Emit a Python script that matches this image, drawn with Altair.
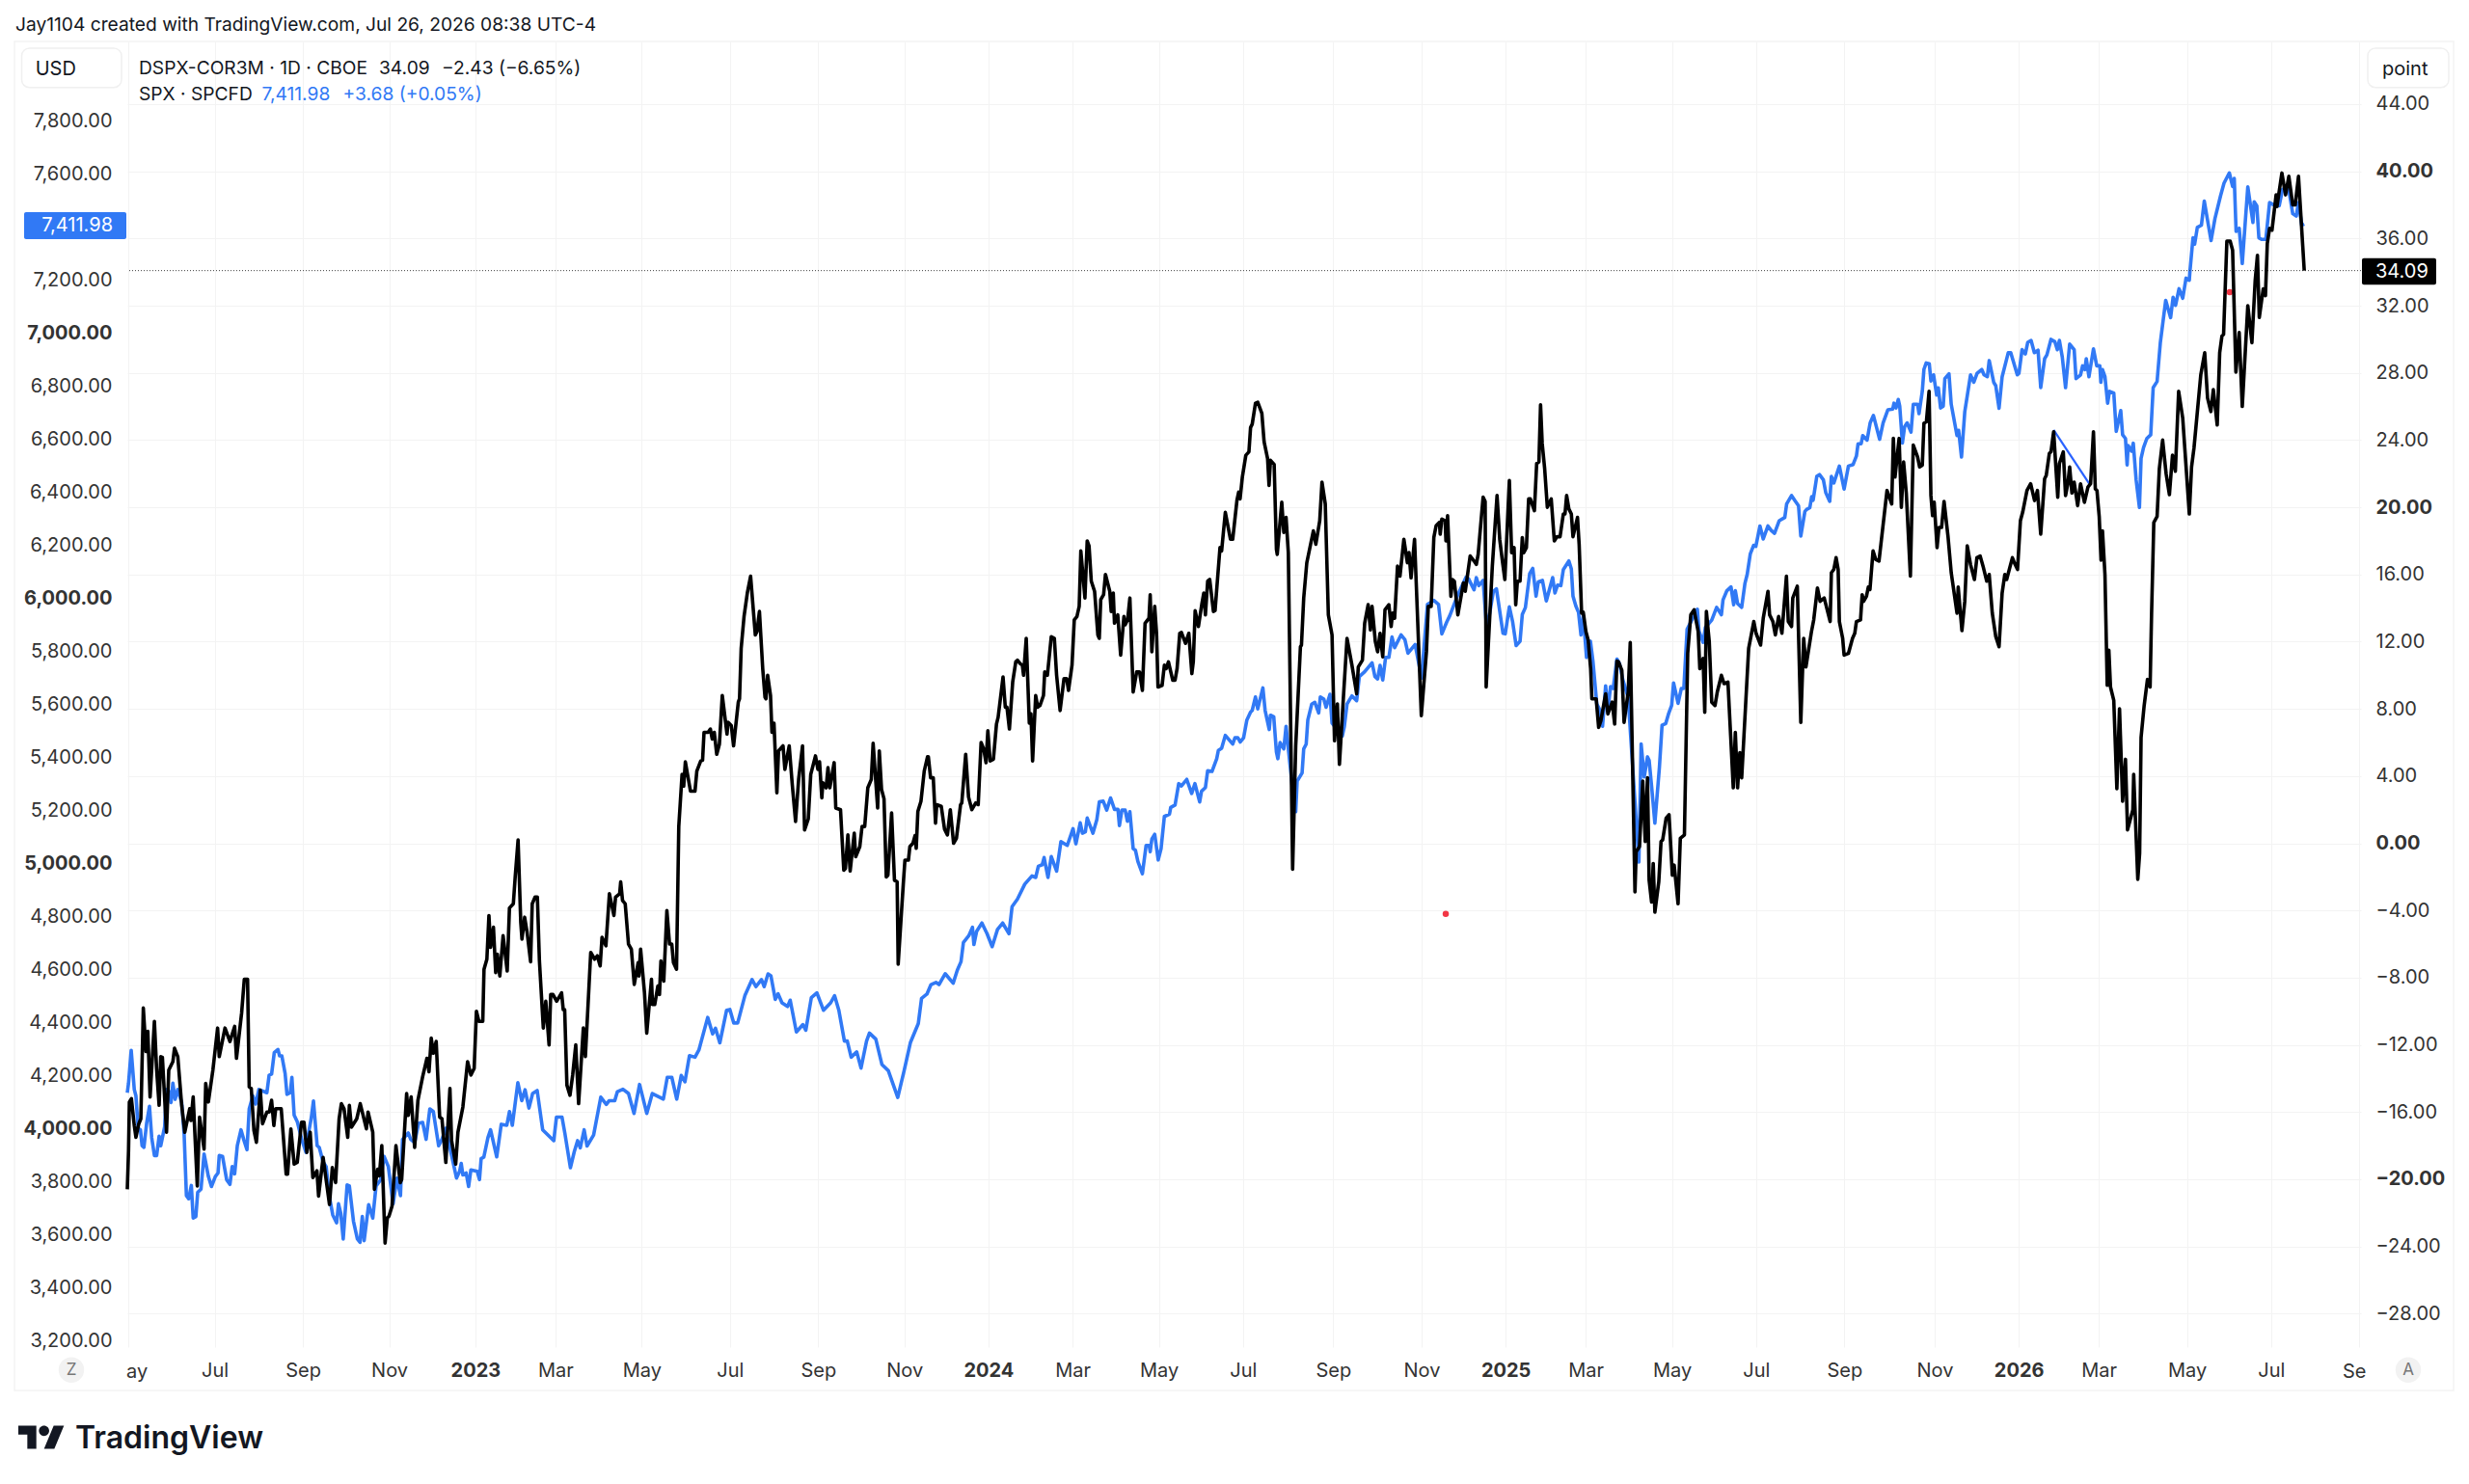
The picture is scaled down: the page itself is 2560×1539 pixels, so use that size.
import altair as alt
import pandas as pd
from itertools import accumulate

# --- axis data -------------------------------------------------------------
month_labels = ["May","Jul","Sep","Nov","2023","Mar","May","Jul","Sep","Nov","2024","Mar","May","Jul","Sep","Nov",
                "2025","Mar","May","Jul","Sep","Nov","2026","Mar","May","Jul","Sep"]
sessions_between_labels = [42,43,42,42,39,42,43,43,42,41,41,42,41,44,43,41,39,42,41,43,44,41,39,43,41,43]
first_label_session = 0.6
left_ticks = [3200,3400,3600,3800,4000,4200,4400,4600,4800,5000,5200,5400,5600,5800,6000,6200,6400,6600,6800,7000,7200,7600,7800]
right_ticks = [-28,-24,-20,-16,-12,-8,-4,0,4,8,12,16,20,24,28,32,36,40,44]

# --- series: (trading session, value) ---------------------------------------
dspx_cor3m = [
(0,-20.6),(.6,-18.3),(1,-15.4),(2,-15.2),(3.4,-16.8),(4.2,-17.5),(5.6,-16.7),(6.6,-16.4),(7.8,-9.8),(9.1,-12.4),(10,-11.2),(11.1,-15.1),
(13.2,-10.6),(14.3,-13.5),(15.5,-15.6),(16.3,-12.7),(17.1,-12.75),(19.1,-17.2),(20.2,-13.5),(22.2,-13),(23,-12.2),(24.6,-12.7),(26.5,-15.6),
(28,-17.2),(30.4,-15.8),(31,-16.5),(32.1,-15.1),(34.1,-20.4),(35.2,-16.3),(37.4,-18.2),(38.2,-14.3),(39.5,-15.4),(41.7,-13.5),(44,-11),
(44.8,-12.7),(47.6,-11),(50,-11.8),(52.3,-10.9),(53.2,-12.8),(55.7,-10.1),(57,-8.1),(58.6,-8.1),(59.4,-14.5),(60.4,-14.6),(61.7,-17.1),
(62.9,-17.8),(64.8,-14.7),(65.9,-16.7),(68,-16),(69.2,-16),(70.3,-15.3),(71.4,-16.8),(72.3,-15.8),(75,-15.8),(77.4,-19.7),(78.1,-19.7),
(79.7,-17),(81.3,-19.1),(82.8,-19),(84.9,-16.6),(86.1,-16.6),(87.5,-18.4),(89.1,-17.2),(90.4,-19.9),(92.4,-19.5),(93.2,-21),(95.4,-18.7),
(98.5,-21.5),(99.9,-19.3),(101.5,-20.2),(103.2,-16.4),(104.3,-15.5),(105.6,-15.8),(107.4,-17.5),(108.2,-15.6),(109.2,-16.9),(111.8,-16.4),
(113.5,-15.5),(116.5,-17),(117.3,-16),(119.6,-17.2),(120.4,-20.6),(122,-19.4),(122.8,-19.8),(124,-18),(125.6,-23.8),(126.7,-22.3),(127.5,-22.2),
(129,-21.6),(130.9,-18),(133,-20.2),(133.7,-20),(136.1,-14.9),(136.9,-16.2),(138.3,-15.1),(140,-18.1),(141.6,-15.3),(143.9,-13.9),(146,-12.8),
(147,-13.6),(148.1,-11.6),(149.1,-12.5),(150.5,-11.8),(152.2,-16.3),(153.3,-16.4),(155.2,-19),(157.2,-14.6),(158,-17.7),(160,-19.1),(161.1,-17.2),
(163.5,-15.7),(165.8,-13),(167.4,-13.8),(169,-13.4),(170.1,-10),(171.3,-10.6),(173.2,-10.6),(173.8,-7.5),(175.2,-6.9),(176.2,-4.3),(177,-6.2),
(178.4,-5),(179.5,-7.7),(180.3,-6.6),(181.5,-7.9),(183.1,-5.5),(185.1,-7.6),(186.2,-3.85),(188.1,-3.6),(189,-2),(190.4,.2),(191.7,-4.7),
(192.3,-5.7),(193.6,-4.4),(194.8,-5.3),(196.5,-7.05),(197.3,-3.6),(198.7,-3.2),(199.8,-3.2),(200.8,-7),(202.7,-11),(203.9,-9.4),(205.5,-12),
(206.3,-9),(207.4,-9),(209.2,-9.4),(211.6,-8.9),(212.4,-9.9),(213.1,-9.9),(214.2,-14.4),(215.7,-15),(217,-13.8),(218.5,-12),(219.9,-15.5),
(222.2,-11),(223.2,-12.7),(225.8,-6.5),(227.7,-6.9),(229,-6.7),(230.4,-7.3),(231.3,-5.6),(233.2,-6.1),(234.9,-3),(237.1,-4.3),(237.9,-3.2),
(239.9,-3),(240.4,-2.3),(241.3,-3.4),(242.6,-3.6),(244.2,-6),(245.6,-6.3),(247,-8.4),(248.9,-7.1),(249.3,-7.9),(250.1,-6.3),(252,-8.9),
(253.1,-11.3),(255.4,-8.1),(255.9,-9.6),(257,-9.6),(258.5,-8.5),(259.3,-9),(260,-7),(261.4,-8.2),(262.9,-4),(264.2,-6),(265.3,-6),(266.1,-7.1),
(267.6,-7.5),(268.7,1),(270.3,4.1),(271.1,3.4),(271.9,4.85),(274.4,3.1),(276.6,3.1),(277.5,4.3),(279.4,4.9),(280.3,4.95),(281,6.6),(283,6.6),
(284.1,6.8),(285,6.2),(286,6.6),(287.2,5.3),(288.5,5.9),(289.9,8.8),(292.2,6.5),(292.7,7.2),(294.3,7),(295.4,5.8),(297.7,8.4),(298.3,8.6),
(299.1,11.6),(300.5,13.5),(302.1,14.9),(303.7,15.9),(306,12.4),(306.8,12.6),(308,13.8),(309.6,10.4),(310.7,8.7),(311.2,8.6),(312,10),(313.4,8.8),
(314.1,6.6),(315.1,7.15),(316.5,3),(317.3,5.5),(319.5,5.8),(320.4,4.4),(322.5,5.8),(324,3.5),(325.6,1.3),(327.1,3.8),(329,5.8),(330,.8),
(331.8,1.45),(333,4.1),(335.3,5.2),(336.5,4.4),(337.3,4.85),(338.4,2.7),(338.9,3.6),(340.5,3.3),(341.4,4.5),(342.3,3.3),(344.4,4.8),(345.2,2.1),
(347.5,2),(349.1,-1.6),(349.9,-1.5),(351.1,.5),(352.2,-1.65),(354.2,.6),(354.9,-.8),(356.9,-.2),(358,1),(359.3,1),(360.8,3.3),(362.5,3.8),
(363.4,5.95),(365.6,2.1),(366.4,5.5),(367.5,3.2),(368.7,2.65),(369.8,-2),(370.6,-1.9),(372.4,1.8),(373.8,-2.2),(375.1,-2.3),(375.6,-7.2),
(378.1,-2.4),(378.9,-1),(380.6,-1),(381.3,-.2),(382.8,0),(383.8,.45),(384.4,-.3),(385.2,1.9),(386.7,2.5),(388.3,4.3),(389.9,5.15),(390.3,5.15),
(391.4,3.9),(392.7,3.9),(393.8,1.2),(394.4,2.3),(396.6,2.2),(398.2,.84),(399.6,.5),(401,2),(402.6,0),(404,.3),(406,2.3),(406.6,2.4),(408.5,5.3),
(409.9,2.75),(411.5,2),(413.4,2.4),(414.6,2.3),(416,6),(417.3,5.6),(418.4,4.8),(419.3,6.7),(420.4,4.9),(422,5),(423.5,7.1),(424.3,7.5),(426.7,9.9),
(427.8,8.1),(428.6,8.1),(429.8,6.8),(431.4,9.6),(432.9,10.8),(433.7,10.9),(435,10.7),(436.1,10.6),(436.7,10),(438,12.2),(439.5,7.15),(440.3,7.7),
(441.1,4.9),(442.6,8.8),(443.6,8.1),(444.7,8.2),(446.4,8.8),(447,10.2),(448.3,10),(450.2,12.3),(451.7,12.2),(452.8,10),(454.5,7.9),(456.4,9.8),
(457.7,9.8),(458.6,9.1),(460.3,10.6),(461.4,13.3),(462.7,13.5),(463.8,14.1),(464.6,17.4),(466.6,14.6),(467.7,18),(468.6,17.7),(469.7,15.6),
(471.3,15),(472.9,12.4),(473.6,12.2),(474.3,14.5),(475.7,14.8),(476.6,16),(478.7,15),(479.4,13.8),(480.4,14.9),(481,13.1),(482.6,13.6),(484,11.2),
(485.6,13.5),(486.2,13),(487.4,13.3),(488.5,14.6),(490.1,9),(491.8,10.2),(493.2,10.2),(494.6,9.1),(495.9,13.1),(497.8,13.4),(498.4,14.8),(499.2,11.4),
(500.6,14.1),(501.5,12.5),(502.2,9.3),(504.2,9.4),(505.3,10.6),(506.2,10.4),(507.3,10.8),(509.4,9.7),(510.5,9.7),(511.5,10.4),(512.8,12.5),(513.6,12.55),
(515.6,11.9),(517.2,12.5),(518.7,10.1),(519.4,10.8),(520.3,13.85),(521.9,12.9),(523.5,14.2),(524.5,14.9),(525.3,13.6),(526.4,15.6),(527.4,15.7),
(529.2,13.8),(530,13.85),(532.4,17.6),(533.2,17.4),(535,19.7),(537.5,18.1),(538.6,18.1),(540.7,20.45),(541.5,20.9),(542.2,20.5),(543.3,21.8),
(545,23.1),(546.5,23.3),(547.3,24.75),(548.1,24.95),(549.7,26.2),(550.8,26.25),(552.8,25.6),(553.9,23.9),(555.6,22.9),(556.3,21.3),(557,22.8),
(558.8,22.55),(559.9,17.5),(560.3,17.2),(562.5,20.3),(563.5,18.5),(564.6,19.4),(565.7,17.3),(567.8,-1.55),(569.3,5.8),(571.6,11.7),(572.1,11.8),
(573.2,14.6),(574.7,16.7),(577.9,18.6),(579.1,17.8),(581,19.2),(582.1,21.5),(583.7,20.2),(585.2,13.6),(587,12.4),(588.2,6.1),(589.6,8.3),(590.6,4.7),
(592.4,8.4),(594.3,12.2),(596.7,10.6),(599,8.9),(599.8,10.5),(601.8,10.9),(602.9,13.1),(604.6,14.2),(605.7,12.7),(606.5,14.1),(608.1,12),(609.2,11.4),
(610.4,12.5),(611.7,11.1),(612.8,13.9),(614.7,14.2),(615.8,12.9),(616.5,13.7),(617.5,13.4),(618.9,16.5),(620.1,15.9),(622,18.1),(623.7,16.7),
(624.5,17.3),(625.5,15.8),(627.2,18.1),(630.5,7.6),(633,11.4),(633.9,14.1),(635.3,14.1),(636.6,18.2),(637.7,18.9),(639.3,19.1),(639.7,18.4),
(640.5,19.3),(642.1,19.2),(642.5,18),(643.3,19.5),(644.9,14.7),(645.7,15.7),(646.6,15.6),(648.3,13.6),(651,15.5),(651.9,15),(654.3,17.1),(656.2,16.8),
(657.3,16.6),(658.2,17.2),(660.6,20.6),(661.6,20.35),(662.1,9.3),(665.1,16.5),(667.4,20.7),(668.7,18.1),(670,16.8),(671.2,15.7),(673.4,21.6),
(674.5,17.3),(675.7,17.6),(676.5,14.2),(677.3,15.6),(678.6,15.6),(679.7,18.2),(680.4,17.3),(681.7,17.6),(682.8,20.5),(683.6,20.5),(685.6,19.8),
(686.7,22.6),(687.8,22.7),(688.6,26.1),(689.4,23.8),(690.6,22.3),(691.9,20),(693.8,20.5),(695.3,18),(696.6,18.25),(698.1,18.25),(699.7,19.6),
(700.5,19.6),(701.3,20.7),(702.4,19.9),(703.6,19.6),(704.4,18.25),(706.6,19.4),(707.4,17.8),(708.6,13.7),(709.4,13.75),(710.7,12.6),(711.8,12.1),
(713,10.4),(713.6,8.6),(715.7,8.6),(716.9,6.9),(718,7.3),(720.3,8.9),(721.4,7.7),(723.5,8.4),(724.7,7.1),(725.8,10.85),(726.6,10.8),(728.2,10.3),
(729.3,7.2),(731.3,9),(732.3,11.95),(734.6,-2.9),(735.2,-.5),(736.8,-.2),(738.4,3.7),(739.6,.1),(740.7,3.9),(741.5,-2.2),(742.7,-3.5),(743.5,-1.2),
(744.3,-4.1),(746.2,-2.3),(747.3,.1),(748.1,.2),(749.8,1.5),(751.2,1.7),(752.8,-1.9),(753.7,-1.3),(755.6,-3.6),(756.7,.3),(758.7,.5),(760.3,11.3),
(761.8,13.6),(763.4,13.9),(765.4,12.6),(766.2,10.4),(767.8,11),(768.6,7.8),(769.4,13.8),(770.8,12),(772,8.4),(773.6,8.2),(774.7,9),(776.7,10),
(778,9.5),(779.9,9.6),(782.5,3.3),(783.5,6.6),(784.6,3.3),(785.7,5.4),(786.6,3.9),(788.5,8.2),(790,11.6),(792.5,13.2),(793.6,12.5),(795.8,11.8),
(797.1,13.4),(799.4,15),(800.2,13.6),(801.8,13.2),(803,12.4),(804.6,13.5),(806.2,12.5),(808.4,15.9),(809.3,13.2),(810.9,12.9),(811.5,14.6),
(813.7,15.3),(815.4,7.2),(816.8,12.2),(817.9,10.5),(820.6,12.6),(821.7,13.3),(823.5,15.2),(824.8,14.4),(826.8,14.6),(829.7,13.2),(830.3,16.1),
(831.5,16.3),(832.6,17),(833.6,16.3),(834.2,13.2),(835.8,12.2),(836.5,11.2),(838.6,11.3),(840.6,12.2),(841.7,12.5),(842.5,13.2),(844.5,13.3),
(845.3,14.8),(846,14.4),(847.4,14.7),(848.3,15.25),(849.1,15.1),(850.6,17.4),(851.9,16.9),(853.5,16.8),(857.4,21),(859.7,20.2),(860.5,24.1),
(861.3,21.8),(863.3,24.1),(864.4,20),(865.5,22.7),(866.8,20.85),(868.8,15.9),(870.2,23.7),(872.3,23),(873.3,22.4),(874.6,22.5),(875.4,25),
(876.6,25.1),(877.9,26.9),(878.8,20.7),(879.6,19.5),(880.4,20.3),(881.8,17.6),(882.7,18.8),(884,18.8),(885.2,20.35),(887.1,18.3),(888.7,16.1),
(891.5,13.7),(892.1,15.25),(893.9,12.66),(895.3,14.4),(896.5,17.7),(898.1,16.6),(900,15.7),(901.2,17),(902.8,17.1),(904.4,16.4),(906,15.6),
(907.2,16),(908.7,13.7),(910.4,12.3),(912,11.7),(913.5,14.9),(914.8,16),(915.7,15.7),(918.5,17),(919.8,16.6),(921,16.3),(922.4,19.2),(923.5,19.7),
(925.6,21),(927.4,21.4),(929.3,20.4),(930.7,21),(932.3,18.4),(934.2,21.7),(935,21.9),(936.5,23.2),(937.3,23.3),(938.6,24.5),(940.6,20.6),(941.4,22.6),
(943.3,23.3),(944.4,20.7),(945.5,21.4),(946.4,22.4),(947.5,20.85),(948.6,21.5),(950.3,20.1),(951.7,21.4),(953.6,20.3),(955.3,21.2),(956.6,21.4),
(958,24.5),(958.9,21.1),(959.7,21),(960.8,19.45),(961.7,16.85),(962.4,18.6),(963.6,16),(964.7,9.4),(965.5,11.5),(966.3,9.3),(967.9,8.5),(969.4,3.25),
(970.7,8),(972.2,2.5),(973.6,5),(974.6,.8),(977.2,2),(977.6,4.1),(979.6,-2.15),(980.5,-.6),(981.2,6.3),(982.7,8.2),(984.3,9.75),(985.6,9.3),(986.3,13.6),
(987.4,19.1),(989,19.45),(990.1,22.3),(991.7,24),(993.4,22),(995,20.75),(996.5,23.1),(997.9,22.15),(999.5,26.9),(1001.5,25.3),(1004.7,19.6),(1005.8,22.4),
(1007,23.55),(1010.3,27.9),(1012.2,29.2),(1013.6,26.5),(1015.2,25.7),(1016.4,27),(1018.3,24.9),(1019.5,29.2),(1020.6,30.2),(1021.4,30.3),(1023,35.85),
(1024.6,35.85),(1025.8,35.3),(1027.4,28.05),(1029,30.4),(1030.5,26),(1033.2,32),(1035.2,29.8),(1036.8,33.5),(1037.9,35),(1038.8,31.3),(1040.7,33),
(1041.8,32.6),(1042.7,35.7),(1043.8,36.6),(1045,36.5),(1047,38.6),(1047.4,37.9),(1049.8,39.9),(1051.6,38.6),(1053.2,39.7),(1055.1,38),(1056.3,38),
(1057.9,39.7),(1060.7,34.09),
]

spx = [
(0,4135),(.6,4171),(1.9,4295),(3.4,4147),(4.2,4123),(5.3,4001),(6.4,3995),(7.2,3935),(8.1,3929),(9.4,4019),(10.8,4084),(11.9,3965),(13.2,3898),(14.3,3898),
(15.5,3971),(16.3,3935),(18.2,4007),(19,4147),(20.2,4141),(21.3,4098),(22.2,4171),(23.3,4110),(24.6,4147),(26.5,4098),(27.7,3977),(28.8,3747),(29.9,3735),
(31.2,3785),(32.1,3662),(33.4,3668),(34.3,3759),(35.9,3771),(37.4,3904),(39.5,3819),(41,3781),(42.9,3819),(44.2,3832),(44.8,3898),(46.4,3895),(48.4,3807),
(50,3789),(51.1,3856),(52.3,3829),(53.6,3935),(55.4,3995),(56.7,3959),(58.3,3920),(59.4,4074),(61.2,4123),(62.5,4092),(64.1,4147),(68,4135),(69.1,4201),
(70.3,4205),(71.6,4286),(73.4,4298),(74.2,4274),(75.3,4274),(76.9,4207),(77.8,4129),(79.4,4135),(80.2,4193),(81.3,4050),(82.8,4026),(85.2,3953),(87.1,3910),
(88.3,3983),(89.6,4038),(90.7,4104),(92.5,3935),(93.5,3929),(95.4,3874),(96.9,3856),(98.5,3741),(100.1,3674),(102,3644),(102.9,3716),(104,3680),(105.2,3583),
(107.1,3787),(108.2,3783),(110.2,3650),(112.1,3583),(113.4,3571),(114.5,3668),(115.4,3577),(117.6,3713),(119.6,3662),(121.2,3783),(123.5,3807),(125.1,3895),
(127.2,3856),(129.5,3716),(131.4,3813),(133.1,3747),(134.1,3959),(136.9,3983),(138.1,3959),(140,3947),(141.9,4019),(143.9,4023),(145.6,3959),(147.4,4074),
(149.1,4064),(151.7,3935),(153.3,3959),(155.2,4001),(157.5,3916),(160.4,3813),(161.9,3838),(162.7,3868),(163.5,3825),(165.1,3832),(166.3,3781),(167.4,3844),
(170.5,3838),(171.6,3807),(172.4,3886),(173.7,3892),(175.7,3965),(177,3995),(180,3893),(182.2,4016),(184.9,4012),(186.2,4064),(187.6,4012),(190.3,4173),
(192.2,4105),(193.8,4146),(195.7,4077),(197.5,4132),(199.7,4143),(202.4,3995),(207.8,3954),(209.1,4043),(211.8,4043),(213.2,3982),(215.9,3852),(217.8,3913),
(219.4,3954),(220.7,3927),(222.6,3995),(224,3934),(227.2,3975),(230.7,4118),(233.4,4091),(234.8,4105),(237.5,4105),(238.8,4139),(241.5,4148),(244.2,4132),
(246.9,4057),(249.6,4166),(253.1,4057),(255.8,4132),(261.2,4111),(263.1,4193),(265.3,4193),(267.7,4111),(269.9,4200),(271.7,4176),(273.9,4275),(276.6,4269),
(278.5,4296),(282.8,4419),(285.2,4357),(286.6,4378),(288.7,4323),(292,4446),(293.6,4449),(295.5,4398),(297.4,4398),(300.9,4501),(304.4,4562),(306.3,4535),
(309,4562),(310.3,4535),(312.2,4583),(313.6,4576),(315.7,4487),(317.1,4508),(319,4474),(321.7,4460),(323,4484),(326,4364),(329.2,4392),(330.6,4371),(333.3,4494),
(336,4512),(339.2,4446),(342.7,4474),(344.6,4501),(346.7,4446),(349.4,4330),(350.8,4330),(352.7,4269),(355.4,4289),(357.5,4228),(360.2,4330),(361.6,4360),
(364.7,4337),(367.7,4241),(370.8,4218),(375.4,4117),(378.5,4218),(381.6,4325),(385.4,4396),(387,4491),(389.6,4507),(391.6,4543),(394,4551),(395.5,4543),
(398.5,4584),(402.4,4548),(404.4,4597),(406.2,4629),(407.4,4702),(410,4727),(411.8,4759),(412.5,4694),(413.8,4743),(416.4,4775),(418.9,4735),(421.4,4686),
(424,4751),(426.5,4775),(429.6,4735),(431.1,4837),(433.7,4865),(437.3,4922),(440.8,4953),(442.6,4947),(443.9,4989),(445.8,4995),(446.7,5022),(448.6,4947),
(450.2,5026),(452.8,4971),(454.9,5082),(458,5068),(460.8,5131),(462.2,5074),(464.3,5153),(465.4,5114),(466.8,5119),(467.7,5171),(470.5,5114),(472.4,5165),
(473.6,5232),(475.5,5235),(477.2,5201),(479.1,5247),(481,5204),(482.7,5204),(483.4,5143),(484.6,5201),(486.2,5201),(487.3,5159),(488.5,5195),(490.1,5056),
(491.2,5050),(492.4,5007),(494.6,4961),(496.4,5068),(497.9,5068),(498.4,5044),(499.2,5092),(500.6,5110),(502.3,5013),(503.7,5056),(505.3,5177),(507.8,5186),
(508.4,5211),(510.5,5220),(512.3,5301),(513.6,5292),(516.2,5317),(518.6,5264),(520.2,5301),(522.5,5232),(523.4,5272),(525.3,5286),(526.4,5350),(528.5,5347),
(530.8,5395),(531.6,5426),(533.2,5434),(535,5483),(538.6,5450),(539.7,5474),(541.1,5474),(542.3,5458),(543.9,5474),(545.5,5541),(547.3,5571),(548.1,5577),
(549.7,5628),(550.8,5583),(553.3,5662),(554.4,5577),(556.4,5505),(557,5559),(558.6,5553),(559.9,5420),(560.6,5395),(561.7,5456),(563.5,5432),(564.6,5517),
(565.8,5426),(567.7,5286),(569.3,5195),(570,5310),(572.4,5341),(573.2,5432),(574.4,5450),(575.2,5541),(577.1,5601),(578.6,5608),(580.5,5568),(581.3,5628),
(583,5620),(584.1,5589),(586,5638),(587,5529),(592,5480),(593,5517),(594.3,5601),(596.7,5632),(599,5614),(600.3,5705),(602.9,5723),(606.5,5757),(607.9,5705),
(609.2,5696),(610.4,5747),(611.7,5692),(613.1,5777),(614.7,5777),(616.2,5854),(617.5,5814),(620.6,5862),(622.5,5844),(624,5793),(627.5,5826),(630.6,5699),
(633.5,5977),(636.6,5992),(638.9,5977),(640.5,5866),(642.9,5911),(644.4,5935),(648.3,6014),(652.3,6080),(653.5,6074),(656.2,6032),(657.3,6078),(658.5,6048),
(660.6,6068),(662.4,5880),(665.6,6026),(667.1,6036),(670.3,5868),(671.4,5866),(673.4,5968),(675,5911),(676.7,5822),(678.6,5838),(679.7,5939),(681.2,5965),
(683.3,6093),(684.8,6113),(686.4,6008),(687.5,6062),(689.5,6068),(691.4,5990),(694.5,6078),(695.6,6020),(696.9,6050),(698.5,6048),(699.7,6108),(702.4,6141),
(703.6,6111),(704.4,6008),(705.8,5971),(707.1,5947),(708.3,5862),(709.4,5935),(711,5777),(712.9,5838),(714.1,5765),(716,5602),(717.2,5583),(718.8,5517),
(720.3,5670),(721.4,5577),(722.7,5667),(724,5660),(725.8,5771),(727.1,5753),(728.6,5695),(731.3,5625),(736.5,5005),(737.6,5451),(739.1,5326),(740.7,5402),
(741.5,5389),(742.7,5291),(744.3,5152),(746.5,5361),(747.8,5521),(749.6,5528),(750.9,5563),(752.5,5597),(753.4,5681),(755.6,5604),(757.2,5660),(758.4,5660),
(760,5883),(765,5959),(765.8,5876),(767.8,5834),(768.9,5890),(772,5918),(774.4,5966),(776.7,5938),(777.5,5994),(779.4,6029),(781.4,6043),(782.7,5976),
(783.5,6029),(784.6,5980),(786.6,5966),(788.2,6057),(789.3,6091),(790.8,6168),(792.4,6200),(793.5,6196),(795.5,6273),(797.1,6224),(799.4,6273),(801,6256),
(802.6,6245),(804.9,6293),(807.6,6305),(808.5,6356),(810.9,6388),(812.4,6370),(814.3,6349),(815.4,6235),(817.4,6328),(818.2,6335),(819.8,6342),(820.7,6384),
(821.4,6370),(823.2,6460),(824.5,6467),(826.4,6447),(827.6,6398),(829.5,6366),(830.3,6460),(831.5,6435),(834.2,6499),(836.5,6412),(838.6,6499),(840.9,6505),
(842.5,6537),(843.3,6583),(844.8,6583),(845.6,6614),(847.7,6597),(849.2,6662),(850.8,6690),(853.8,6600),(855.5,6662),(857.8,6711),(860.2,6714),(860.8,6736),
(861.8,6718),(862.9,6750),(863.6,6725),(864.9,6586),(866,6648),(867.2,6662),(869.1,6627),(870.2,6732),(872.3,6732),(873,6697),(874.6,6781),(875.4,6864),
(876.5,6888),(878,6885),(878.8,6820),(880.1,6843),(881.6,6767),(882.4,6794),(883.5,6718),(884.8,6725),(885.6,6829),(887.6,6847),(888.7,6732),(891.5,6614),
(892.3,6634),(893.7,6533),(895.3,6704),(898.1,6843),(899.7,6815),(901.3,6849),(903.6,6863),(904.7,6843),(906.3,6836),(907.2,6897),(909.4,6815),(910.4,6802),
(912,6717),(913.5,6836),(916.5,6927),(917.7,6927),(920.9,6843),(921.7,6849),(923.2,6938),(924.8,6922),(926,6966),(927.6,6973),(929.2,6927),(931,6936),
(932.3,6795),(934.2,6904),(935.3,6918),(937.3,6977),(939.2,6968),(940.4,6938),(941.4,6973),(942.8,6911),(944.4,6795),(946.4,6959),(948.6,6938),(949.5,6829),
(951.7,6843),(952.7,6877),(953.8,6863),(954.5,6904),(955.8,6836),(958,6941),(959.6,6877),(961.1,6877),(961.6,6815),(962.4,6863),(963.6,6836),(964.9,6736),
(965.8,6781),(967.9,6774),(969.1,6630),(971.3,6708),(972.2,6617),(973.6,6603),(974.4,6503),(974.9,6576),(976.5,6555),(977.4,6585),(978.8,6446),(980.4,6343),
(981.2,6528),(982.4,6569),(984,6603),(985.9,6617),(987.1,6795),(989,6818),(990.6,6966),(993.2,7124),(995.6,7059),(996.8,7136),(998,7105),(999.7,7168),
(1001.5,7132),(1003.1,7208),(1004.7,7200),(1005,7233),(1006.5,7360),(1007.3,7336),(1008.6,7399),(1010.6,7408),(1012,7499),(1014,7408),(1015.3,7350),
(1017.2,7433),(1019.9,7518),(1021.6,7566),(1024.2,7605),(1025.8,7554),(1026.6,7584),(1027.5,7384),(1029,7396),(1030.5,7263),(1033.2,7552),(1035.7,7418),
(1036.3,7496),(1037.6,7481),(1038.6,7360),(1039.9,7354),(1042,7354),(1043.8,7493),(1046.6,7481),(1048.5,7481),(1050.1,7542),(1052.9,7554),(1055.1,7451),
(1056.8,7442),(1057.9,7493),(1059.5,7408),(1060.7,7411.98),
]

trend_annotation = [(938.6,24.6),(956.5,21.3)]
alert_dots = [(642.4,-4.2),(1024.4,32.8)]
last_point_value = 34.09

# --- layout constants (image pixels) ----------------------------------------
PLOT_L, PLOT_T, PLOT_R, PLOT_B = 132, 43, 2448, 1397
W, H = PLOT_R - PLOT_L, PLOT_B - PLOT_T
X_DOMAIN = [0, W / 2.128]
Y_LEFT = [3175.4, 8100.8]
Y_RIGHT = [-29.99, 47.73]
FONT = "Inter"
BLUE = "#3179f5"
GRID = "#f3f3f3"
LABEL = "#333333"
INK = "#131722"

ticks = [first_label_session + c for c in accumulate([0] + sessions_between_labels)]
tick_str = ",".join(str(round(t, 1)) for t in ticks)
label_str = ",".join("'" + ("" if i in (0, len(month_labels) - 1) else m) + "'" for i, m in enumerate(month_labels))
year_ticks = ",".join(str(round(t, 1)) for t, m in zip(ticks, month_labels) if m.isdigit())

x_enc = alt.X(
    "session:Q",
    scale=alt.Scale(domain=X_DOMAIN, nice=False, zero=False),
    axis=alt.Axis(
        title=None, values=[round(t, 1) for t in ticks], domain=False, ticks=False, grid=True, gridColor=GRID, gridWidth=1,
        labelExpr=f"[{label_str}][indexof([{tick_str}], round(datum.value*10)/10)]",
        labelFont=FONT, labelFontSize=20, labelColor=LABEL, labelPadding=14, labelOverlap=False, labelBound=False, labelFlush=False,
        labelFontWeight={"condition": {"test": f"indexof([{year_ticks}], round(datum.value*10)/10) >= 0", "value": "bold"}, "value": "normal"},
    ),
)


def frame(points, name):
    return pd.DataFrame({"session": [p[0] for p in points], name: [p[1] for p in points], "i": range(len(points))})


def one():
    return alt.Chart(pd.DataFrame({"k": [0]}))


def label(text, x, y, size=20, color=LABEL, align="left", weight="normal"):
    return one().mark_text(align=align, baseline="middle", font=FONT, fontSize=size, fontWeight=weight, color=color).encode(
        x=alt.value(x - PLOT_L), y=alt.value(y - PLOT_T), text=alt.value(text))


def box(x0, y0, x1, y1, fill="white", stroke=None, radius=0):
    kw = {"fill": fill, "cornerRadius": radius}
    if stroke:
        kw.update(stroke=stroke, strokeWidth=1.5)
    return one().mark_rect(**kw).encode(
        x=alt.value(x0 - PLOT_L), x2=alt.value(x1 - PLOT_L), y=alt.value(y0 - PLOT_T), y2=alt.value(y1 - PLOT_T))


# --- data layers ------------------------------------------------------------
blue_line = alt.Chart(frame(spx, "value")).mark_line(color=BLUE, strokeWidth=3.6, strokeJoin="round").encode(
    x=x_enc,
    y=alt.Y("value:Q", scale=alt.Scale(domain=Y_LEFT, nice=False, zero=False),
            axis=alt.Axis(title=None, orient="left", values=left_ticks, format=",.2f", domain=False, ticks=False, grid=False,
                          labelFont=FONT, labelFontSize=20, labelColor=LABEL, labelPadding=16, labelOverlap=False, labelBound=False, labelFlush=False,
                          labelFontWeight={"condition": {"test": "datum.value % 1000 == 0", "value": "bold"}, "value": "normal"})),
    order="i:Q",
)

right_scale = alt.Scale(domain=Y_RIGHT, nice=False, zero=False)

black_line = alt.Chart(frame(dspx_cor3m, "value")).mark_line(color="#000000", strokeWidth=3.6, strokeJoin="round").encode(
    x=x_enc,
    y=alt.Y("value:Q", scale=right_scale,
            axis=alt.Axis(title=None, orient="right", values=right_ticks, format=".2f", domain=False, ticks=False, grid=True, gridColor=GRID, gridWidth=1,
                          labelFont=FONT, labelFontSize=20, labelColor=LABEL, labelPadding=15, labelOverlap=False, labelBound=False, labelFlush=False,
                          labelFontWeight={"condition": {"test": "datum.value % 20 == 0", "value": "bold"}, "value": "normal"})),
    order="i:Q",
)

price_line = alt.Chart(pd.DataFrame({"value": [last_point_value]})).mark_rule(color="#444444", strokeWidth=1, strokeDash=[1, 2]).encode(
    y=alt.Y("value:Q", scale=right_scale, axis=None))

trend = alt.Chart(frame(trend_annotation, "value")).mark_line(color="#2962ff", strokeWidth=2.2).encode(
    x=x_enc, y=alt.Y("value:Q", scale=right_scale, axis=None), order="i:Q")

dots = alt.Chart(frame(alert_dots, "value")).mark_circle(color="#f23645", size=42, opacity=1).encode(
    x=x_enc, y=alt.Y("value:Q", scale=right_scale, axis=None))

# --- chrome -----------------------------------------------------------------
logo_path = ("M-.222 .5H-.611V-.111H-1V-.5H-.222Z M.556 .5H.111L.528 -.5H.972Z "
             "M-.111 -.278A.222 .222 0 1 1 .333 -.278A.222 .222 0 1 1 -.111 -.278Z")
logo = one().mark_point(shape=logo_path, filled=True, fill=INK, opacity=1, size=2304, strokeWidth=0).encode(
    x=alt.value(43 - PLOT_L), y=alt.value(1490.5 - PLOT_T))

circle_z = one().mark_circle(color="#f2f2f2", size=700, opacity=1).encode(x=alt.value(74 - PLOT_L), y=alt.value(1420.7 - PLOT_T))
circle_a = one().mark_circle(color="#f2f2f2", size=700, opacity=1).encode(x=alt.value(2497 - PLOT_L), y=alt.value(1420.7 - PLOT_T))

layers = [
    box(15, 43, 2544, 1442, fill="transparent", stroke="#f3f3f3"),
    box(22.5, 50, 126, 90.7, stroke="#f0f0f0", radius=8),
    box(2455, 50, 2539, 90.7, stroke="#f0f0f0", radius=8),
    blue_line,
    trend,
    dots,
    price_line,
    black_line,
    box(25, 220, 131, 248, fill=BLUE, radius=2),
    box(2449, 267.7, 2526, 295.3, fill="#000000", radius=2),
    label("Jay1104 created with TradingView.com, Jul 26, 2026 08:38 UTC-4", 16, 26.2, size=19.2, color="#131722"),
    label("USD", 36.7, 71.5, color="#131722"),
    label("point", 2470, 71.5, color="#131722"),
    label("DSPX-COR3M · 1D · CBOE", 144, 70.5, size=19.2, color="#131722"),
    label("34.09", 393, 70.5, size=19.2, color="#131722"),
    label("−2.43 (−6.65%)", 458, 70.5, size=19.2, color="#131722"),
    label("SPX · SPCFD", 144, 98, size=19.2, color="#131722"),
    label("7,411.98", 271.5, 98, size=19.2, color=BLUE),
    label("+3.68 (+0.05%)", 355.6, 98, size=19.2, color=BLUE),
    label("7,411.98", 117, 234, color="#ffffff", align="right"),
    label("34.09", 2463, 282, color="#ffffff"),
    label("ay", 131, 1422.7),
    label("Se", 2429, 1422.7),
    circle_z, circle_a,
    label("Z", 74, 1420.7, size=17, color="#777777", align="center"),
    label("A", 2497, 1420.7, size=17, color="#777777", align="center"),
    logo,
    label("TradingView", 78, 1492, size=32, color=INK, weight=600),
]

chart = alt.layer(*layers).resolve_scale(y="independent").properties(
    width=W,
    height=H,
    padding={"left": PLOT_L - 8, "top": PLOT_T - 8, "right": 2552 - PLOT_R, "bottom": 1531 - PLOT_B},
    autosize=alt.AutoSizeParams(type="none"),
    background="white",
).configure_view(stroke=None)

chart.save("out.html", embed_options={"renderer": "svg", "actions": False})
